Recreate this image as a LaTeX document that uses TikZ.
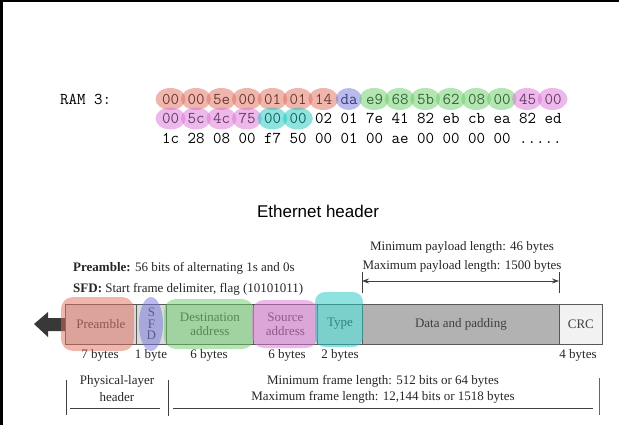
\documentclass[tikz,border=0pt]{standalone}
\usepackage{fontspec}
\setmainfont{Liberation Serif}
\newfontfamily\headfont{Liberation Sans}
\usepackage{tikz}
\usepackage{xcolor}
\usetikzlibrary{arrows.meta}

\definecolor{preamblecol}{RGB}{222,110,92}
\definecolor{sfdcol}{RGB}{118,118,222}
\definecolor{destcol}{RGB}{105,205,105}
\definecolor{srccol}{RGB}{220,115,215}
\definecolor{typecol}{RGB}{30,200,192}
\definecolor{boxgray}{RGB}{218,218,218}
\definecolor{datagray}{RGB}{178,178,178}
\definecolor{crcgray}{RGB}{242,242,242}

\begin{document}
\begin{tikzpicture}[x=1pt, y=-1pt,
    txt/.style={font=\fontsize{13}{15}\selectfont, inner sep=0pt, text=black!85},
    hex/.style={font=\fontsize{16.5}{19}\selectfont\ttfamily, inner sep=0pt, anchor=west},
    field/.style={draw=black!65, line width=0.8pt, minimum height=40pt, inner sep=0pt,
        anchor=west, font=\fontsize{13}{14}\selectfont, text=black!75, align=center},
    blob/.style={opacity=0.5}]
    \useasboundingbox (0,0) rectangle (619,425);
    % Screen edge
    \fill[black] (0,0) rectangle (619,2);
    \fill[black] (0,0) rectangle (3,425);

    % Memory dump
    \node[hex] (ram) at (60,99) {RAM 3:};
    \node[hex] (row1) at (162,99) {00 00 5e 00 01 01 14 da e9 68 5b 62 08 00 45 00};
    \node[hex] (row2) at (162,118.5) {00 5c 4c 75 00 00 02 01 7e 41 82 eb cb ea 82 ed};
    \node[hex] (row3) at (162,138) {1c 28 08 00 f7 50 00 01 00 ae 00 00 00 00 .....};

    % Title
    \node[font=\headfont\fontsize{17}{20}\selectfont, inner sep=0pt] (title) at (318,211) {Ethernet header};

    % Notes above the frame
    \node[txt, anchor=west] (prenote) at (73,268) {\textbf{Preamble:} 56 bits of alternating 1s and 0s};
    \node[txt, anchor=west] (sfdnote) at (73,289) {\textbf{SFD:} Start frame delimiter, flag (10101011)};
    \node[txt] (paymin) at (462,247) {Minimum payload length: 46 bytes};
    \node[txt] (paymax) at (462,266) {Maximum payload length: 1500 bytes};
    \draw[black!75, line width=0.7pt] (362,272) -- (362,293);
    \draw[black!75, line width=0.7pt] (559,272) -- (559,293);
    \coordinate (payL) at (362,281);
    \coordinate (payR) at (559,281);
    \draw[black!75, line width=0.7pt, {Stealth[length=7pt,width=5pt]}-{Stealth[length=7pt,width=5pt]}] (payL) -- (payR);

    % Direction arrow
    \fill[black!78] (66,318) -- (48,318) -- (48,312) -- (34,324) -- (48,337) -- (48,331) -- (66,331) -- cycle;

    % Frame fields
    \node[field, fill=boxgray, minimum width=71pt] (pre) at (65,324) {Preamble};
    \node[field, fill=boxgray, minimum width=30pt, font=\fontsize{13}{11.5}\selectfont] (sfd) at (136,324) {S\\F\\D};
    \node[field, fill=boxgray, minimum width=87pt] (dst) at (166,324) {Destination\\address};
    \node[field, fill=boxgray, minimum width=64pt] (src) at (253,324) {Source\\address};
    \node[field, fill=boxgray, minimum width=45pt] (typ) at (317,324) {Type};
    \node[field, fill=datagray, minimum width=197pt] (data) at (362,324) {Data and padding};
    \node[field, fill=crcgray, minimum width=43pt] (crc) at (559,324) {CRC};

    % Sizes
    \node[txt] (s1) at (100,355) {7 bytes};
    \node[txt] (s2) at (151,355) {1 byte};
    \node[txt] (s3) at (209,355) {6 bytes};
    \node[txt] (s4) at (287,355) {6 bytes};
    \node[txt] (s5) at (340,355) {2 bytes};
    \node[txt] (s6) at (578,355) {4 bytes};

    % Frame lengths
    \node[txt] (phy1) at (117,381) {Physical-layer};
    \node[txt] (phy2) at (117,397) {header};
    \node[txt] (fmin) at (383,381) {Minimum frame length: 512 bits or 64 bytes};
    \node[txt] (fmax) at (383,397) {Maximum frame length: 12,144 bits or 1518 bytes};
    \draw[black!75, line width=0.7pt] (66,380) -- (66,415);
    \draw[black!75, line width=0.7pt] (168,380) -- (168,416);
    \draw[black!60, line width=0.7pt] (599,378) -- (599,415);
    \draw[black!75, line width=0.7pt] (70,408) -- (160,408);
    \draw[black!75, line width=0.7pt] (173,408) -- (593,408);

    % Highlights on the dump
    \foreach \i in {0,...,6}
        \fill[preamblecol, blob] (170.5+25.47*\i,99) ellipse [x radius=15, y radius=11];
    \fill[sfdcol, blob] (170.5+25.47*7,99) ellipse [x radius=13, y radius=11];
    \foreach \i in {8,...,13}
        \fill[destcol, blob] (170.5+25.47*\i,99) ellipse [x radius=15, y radius=11];
    \foreach \i in {14,15}
        \fill[srccol, blob] (170.5+25.47*\i,99) ellipse [x radius=15, y radius=11];
    \foreach \i in {0,...,3}
        \fill[srccol, blob] (170.5+25.47*\i,118.5) ellipse [x radius=15, y radius=11];
    \foreach \i in {4,5}
        \fill[typecol, blob] (170.5+25.47*\i,118.5) ellipse [x radius=15, y radius=11];

    % Highlights on the frame
    \fill[preamblecol, blob, rounded corners=12pt] (61,297) rectangle (134,351);
    \fill[sfdcol, blob] (151,324) ellipse [x radius=12, y radius=27];
    \fill[destcol, blob, rounded corners=12pt] (164,299) rectangle (254,349);
    \fill[srccol, blob, rounded corners=12pt] (252,300) rectangle (318,348);
    \fill[typecol, blob, rounded corners=10pt] (315,292) rectangle (363,347);
\end{tikzpicture}
\end{document}
